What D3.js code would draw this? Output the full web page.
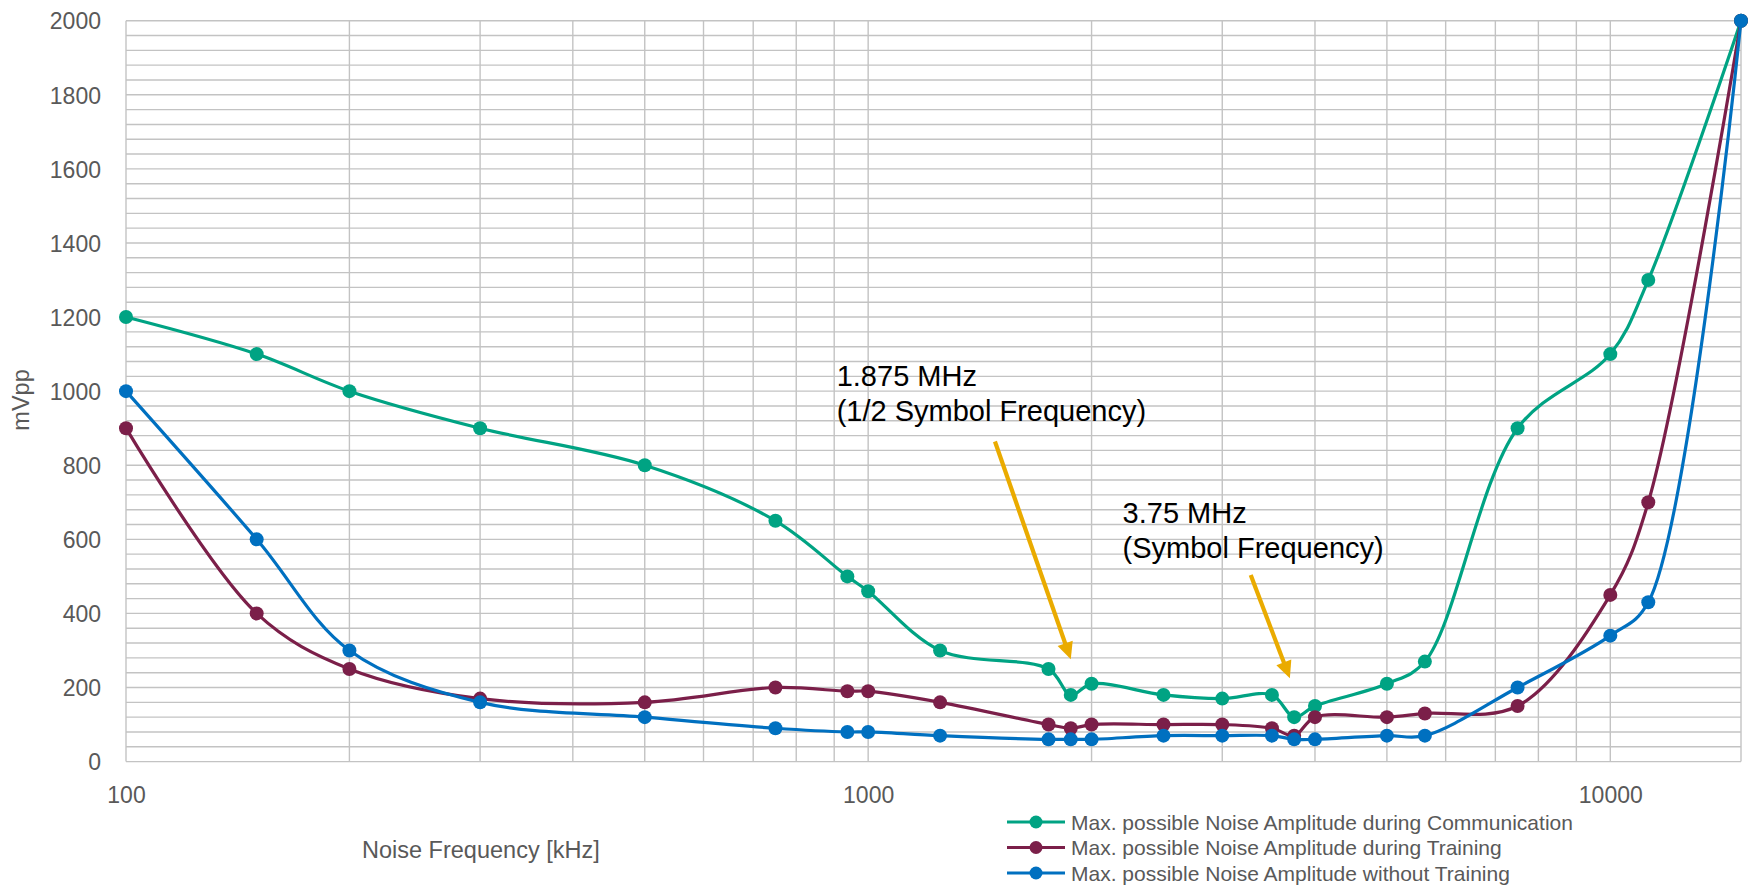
<!DOCTYPE html>
<html>
<head>
<meta charset="utf-8">
<script src="https://cdn.jsdelivr.net/npm/d3@7"></script>
<style>
  body { margin: 0; background: #fff; }
  svg { display: block; font-family: "Liberation Sans", Arial, sans-serif; }
  .tick-label { fill: #595959; font-size: 23px; }
  .axis-title { fill: #595959; font-size: 23.5px; }
  .legend-label { fill: #595959; font-size: 21px; }
  .note { fill: #000; font-size: 29px; }
</style>
</head>
<body>
<div id="chart"></div>
<script>
// noise frequency in kHz, shared by all series
const FREQS = [100, 150, 200, 300, 500, 750, 937.5, 1000, 1250, 1750, 1875, 2000,
  2500, 3000, 3500, 3750, 4000, 5000, 5625, 7500, 10000, 11250, 15000];

const COMMUNICATION = [1200, 1100, 1000, 900, 800, 650, 500, 460, 300, 250, 180, 210,
  180, 170, 180, 120, 150, 210, 270, 900, 1100, 1300, 2000];
const TRAINING = [900, 400, 250, 170, 160, 200, 190, 190, 160, 100, 90, 100,
  100, 100, 90, 70, 120, 120, 130, 150, 450, 700, 2000];
const NO_TRAINING = [1000, 600, 300, 160, 120, 90, 80, 80, 70, 60, 60, 60,
  70, 70, 70, 60, 60, 70, 70, 200, 340, 430, 2000];

const SERIES_NAMES = [
  'Max. possible Noise Amplitude during Communication',
  'Max. possible Noise Amplitude during Training',
  'Max. possible Noise Amplitude without Training'
];
const SERIES_COLORS = ['#00a383', '#7b1f49', '#0070c0'];

const X_TICKS = [100, 1000, 10000];
const Y_TICKS = d3.range(0, 2001, 200);
const Y_MINOR = d3.range(0, 2001, 40);

// annotation text anchors and arrows, in data units (kHz, mVpp)
const NOTES = [
  { f: 907, v: 1015, lines: ['1.875 MHz', '(1/2 Symbol Frequency)'] },
  { f: 2202, v: 643, lines: ['3.75 MHz', '(Symbol Frequency)'] }
];
const ARROWS = [
  { from: [1482, 864], to: [1875, 276] },
  { from: [3277, 504], to: [3700, 225] }
];

const width = 1756, height = 886;
const plot = { left: 126, right: 1741, top: 20.7, bottom: 761.6 };

const svg = d3.select('#chart').append('svg')
  .attr('width', width)
  .attr('height', height);

const x = d3.scaleLog().domain([100, 15000]).range([plot.left, plot.right]);
const y = d3.scaleLinear().domain([0, 2000]).range([plot.bottom, plot.top]);

// gridlines
const grid = svg.append('g').attr('stroke', '#c3c3c3').attr('stroke-width', 1.4);
grid.selectAll('line.h')
  .data(Y_MINOR)
  .join('line')
  .attr('class', 'h')
  .attr('x1', plot.left).attr('x2', plot.right)
  .attr('y1', d => y(d)).attr('y2', d => y(d));
grid.selectAll('line.v')
  .data(x.ticks())
  .join('line')
  .attr('class', 'v')
  .attr('x1', d => x(d)).attr('x2', d => x(d))
  .attr('y1', plot.top).attr('y2', plot.bottom);
grid.append('line')
  .attr('x1', plot.right).attr('x2', plot.right)
  .attr('y1', plot.top).attr('y2', plot.bottom);

// axes labels
const yAxis = svg.append('g')
  .attr('transform', `translate(${plot.left - 22},0)`)
  .call(d3.axisLeft(y).tickValues(Y_TICKS).tickSize(0).tickFormat(d3.format('d')));
yAxis.select('.domain').remove();
yAxis.selectAll('text').attr('class', 'tick-label').attr('font-size', null).attr('font-family', null).attr('dy', '0.36em');

const xAxis = svg.append('g')
  .attr('transform', `translate(0,${plot.bottom + 22})`)
  .call(d3.axisBottom(x).tickValues(X_TICKS).tickSize(0).tickFormat(d3.format('d')));
xAxis.select('.domain').remove();
xAxis.selectAll('text').attr('class', 'tick-label').attr('font-size', null).attr('font-family', null).attr('dy', '0.72em');

svg.append('text')
  .attr('class', 'axis-title')
  .attr('transform', 'translate(29,400) rotate(-90)')
  .attr('text-anchor', 'middle')
  .text('mVpp');

svg.append('text')
  .attr('class', 'axis-title')
  .attr('x', 362).attr('y', 858)
  .text('Noise Frequency [kHz]');

// series
const seriesData = [COMMUNICATION, TRAINING, NO_TRAINING].map((vals, i) => ({
  name: SERIES_NAMES[i],
  color: SERIES_COLORS[i],
  points: FREQS.map((f, j) => ({ f, v: vals[j] }))
}));

const line = d3.line()
  .x(d => x(d.f))
  .y(d => y(d.v))
  .curve(d3.curveCatmullRom.alpha(0.5));

seriesData.forEach(s => {
  const g = svg.append('g');
  g.append('path')
    .attr('d', line(s.points))
    .attr('fill', 'none')
    .attr('stroke', s.color)
    .attr('stroke-width', 3.2);
  g.selectAll('circle')
    .data(s.points)
    .join('circle')
    .attr('cx', d => x(d.f))
    .attr('cy', d => y(d.v))
    .attr('r', 7)
    .attr('fill', s.color);
});

// annotations
NOTES.forEach(n => {
  const t = svg.append('text')
    .attr('class', 'note')
    .attr('x', x(n.f))
    .attr('y', y(n.v));
  n.lines.forEach((l, i) => {
    t.append('tspan').attr('x', x(n.f)).attr('dy', i === 0 ? 0 : 35).text(l);
  });
});

const orange = '#eaab00';
ARROWS.forEach(a => {
  const x0 = x(a.from[0]), y0 = y(a.from[1]);
  const x1 = x(a.to[0]), y1 = y(a.to[1]);
  const len = Math.hypot(x1 - x0, y1 - y0);
  const ux = (x1 - x0) / len, uy = (y1 - y0) / len;
  const headLen = 17, headW = 8;
  const bx = x1 - ux * headLen, by = y1 - uy * headLen;
  svg.append('line')
    .attr('x1', x0).attr('y1', y0)
    .attr('x2', bx + ux * 2).attr('y2', by + uy * 2)
    .attr('stroke', orange)
    .attr('stroke-width', 4.2);
  svg.append('polygon')
    .attr('points', [
      [x1, y1],
      [bx - uy * headW, by + ux * headW],
      [bx + uy * headW, by - ux * headW]
    ].map(p => p.join(',')).join(' '))
    .attr('fill', orange);
});

// legend
const legend = svg.append('g').attr('transform', 'translate(1007,822)');
seriesData.forEach((s, i) => {
  const row = legend.append('g').attr('transform', `translate(0,${i * 25.5})`);
  row.append('line')
    .attr('x1', 0).attr('x2', 58)
    .attr('stroke', s.color)
    .attr('stroke-width', 3.2);
  row.append('circle')
    .attr('cx', 29).attr('r', 6.5)
    .attr('fill', s.color);
  row.append('text')
    .attr('class', 'legend-label')
    .attr('x', 64)
    .attr('dy', '0.36em')
    .text(s.name);
});
</script>
</body>
</html>
